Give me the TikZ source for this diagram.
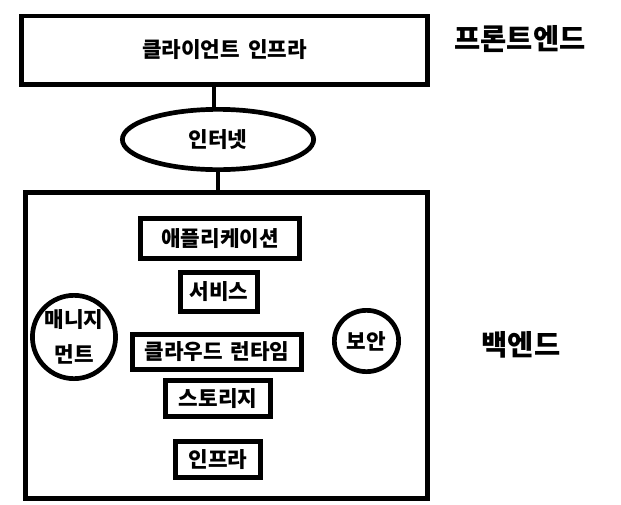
\documentclass[tikz,border=0pt]{standalone}
\usepackage{fontspec}
\setmainfont{Noto Sans CJK KR}
\usetikzlibrary{shapes.geometric}
\tikzset{
  lw/.style={line width=4.7pt},
  frame/.style={draw, lw, rectangle, inner sep=0pt},
  oval/.style={draw, lw, ellipse, inner sep=0pt},
  lbl/.style={font=\bfseries\fontsize{21.3}{35}\selectfont, align=center},
  title/.style={font=\bfseries\fontsize{28.5}{32}\selectfont},
  conn/.style={lw}
}
\begin{document}
\begin{tikzpicture}[x=1pt,y=-1pt]
\useasboundingbox (0,0) rectangle (621,504);
% outer frames
\node[frame, minimum width=406.3pt, minimum height=68.3pt, lbl] (client) at (224.5,50) {클라이언트\hspace{3pt} 인프라};
\node[oval, minimum width=191.3pt, minimum height=60.3pt, lbl] (net) at (218,139.5) {인터넷};
\node[frame, minimum width=402.3pt, minimum height=306.3pt] (back) at (226.5,345.5) {};
% inner boxes
\node[frame, minimum width=159.3pt, minimum height=40.3pt, lbl] (app) at (220,238.5) {애플리케이션};
\node[frame, minimum width=77.3pt, minimum height=39.3pt, lbl] (svc) at (219,292) {서비스};
\node[frame, minimum width=169.3pt, minimum height=35.3pt, lbl] (rt) at (217,352) {클라우드\hspace{3pt} 런타임};
\node[frame, minimum width=105.3pt, minimum height=36.3pt, lbl] (st) at (218,398.5) {스토리지};
\node[frame, minimum width=85.3pt, minimum height=36.3pt, lbl] (inf) at (218,459.5) {인프라};
% circles
\node[oval, minimum width=79.3pt, minimum height=83.3pt, lbl] (mgmt) at (74,337) {매니지\\먼트};
\node[oval, minimum width=64.3pt, minimum height=61.3pt, lbl] (sec) at (366.5,341) {보안};
% titles
\node[title] (fe) at (520,39) {프론트엔드};
\node[title] (be) at (521,345) {백엔드};
% connectors
\draw[conn] ([xshift=-4pt]net.north) -- ([xshift=-4pt]net.north |- client.south);
\draw[conn] (net.south) -- (net.south |- back.north);
\end{tikzpicture}
\end{document}
